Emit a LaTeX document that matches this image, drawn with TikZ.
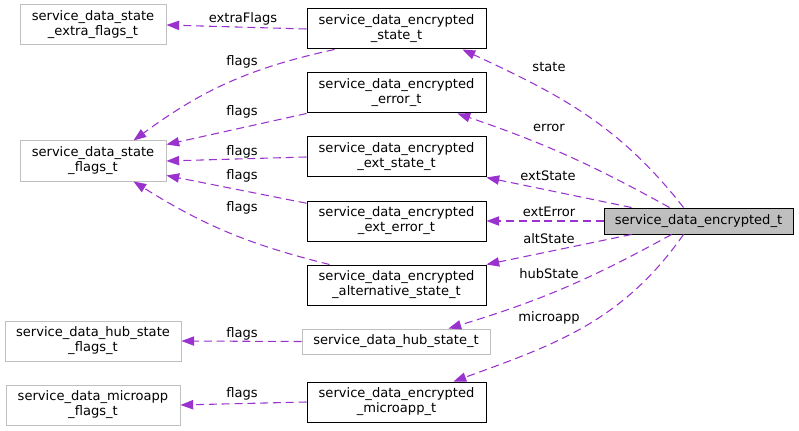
\documentclass[tikz,border=0pt]{standalone}
\usepackage{fontspec}
\setmainfont{DejaVu Sans}
\usetikzlibrary{arrows.meta,calc}
\definecolor{edgepurple}{HTML}{9A32CD}
\definecolor{boxgray}{HTML}{BFBFBF}

\begin{document}
\begin{tikzpicture}[x=0.75pt, y=-0.75pt,
    every node/.style={font=\fontsize{9.8}{11.3}\selectfont, align=center, inner sep=0pt},
    cls/.style={draw=black, line width=0.75pt, minimum height=30pt, minimum width=134.25pt},
    ext/.style={draw=boxgray, line width=0.75pt, minimum height=30pt},
    edge/.style={draw=edgepurple, line width=0.8pt, dash pattern=on 6pt off 3.6pt,
      -{Triangle[length=9.5pt, width=7pt]}},
    lbl/.style={}]
    \useasboundingbox (0,0) rectangle (799,431);

    % left column
    \node[ext, minimum width=109.5pt] (xf) at (93,25) {service\_data\_state\\\_extra\_flags\_t};
    \node[ext, minimum width=109.5pt] (sf) at (93,161) {service\_data\_state\\\_flags\_t};
    \node[ext, minimum width=132pt] (hf) at (93,341) {service\_data\_hub\_state\\\_flags\_t};
    \node[ext, minimum width=130.5pt] (mf) at (93,405) {service\_data\_microapp\\\_flags\_t};

    % middle column
    \node[cls] (es) at (396.5,29) {service\_data\_encrypted\\\_state\_t};
    \node[cls] (ee) at (396.5,93) {service\_data\_encrypted\\\_error\_t};
    \node[cls] (xs) at (396.5,157) {service\_data\_encrypted\\\_ext\_state\_t};
    \node[cls] (xe) at (396.5,221) {service\_data\_encrypted\\\_ext\_error\_t};
    \node[cls] (as) at (396.5,285) {service\_data\_encrypted\\\_alternative\_state\_t};
    \node[ext, minimum width=141pt, minimum height=18.75pt] (hs) at (396,341.5) {service\_data\_hub\_state\_t};
    \node[cls] (ma) at (396.5,402) {service\_data\_encrypted\\\_microapp\_t};

    % main struct
    \node[cls, fill=boxgray, minimum width=141.75pt, minimum height=19.5pt] (main) at (698.5,221) {service\_data\_encrypted\_t};

    % flags edges
    \draw[edge] (es.west) -- (xf.east);
    \draw[edge] ($(es.south west)+(28,0)$) to[bend right=12] ($(sf.north east)+(-33,0)$);
    \draw[edge] (ee.south west) -- ($(sf.north east)+(0,4)$);
    \draw[edge] (xs.west) -- (sf.east);
    \draw[edge] (xe) -- (sf);
    \draw[edge] ($(as.north west)+(23,0)$) to[bend left=9] ($(sf.south east)+(-33,0)$);
    \draw[edge] (hs.west) -- (hf.east);
    \draw[edge] (ma.west) -- (mf.east);

    % member edges
    \draw[edge] ($(main.north west)+(80,0)$) to[out=128, in=-25] ($(es.south east)+(-24,0)$);
    \draw[edge] ($(main.north west)+(66,0)$) to[bend right=5] ($(ee.south east)+(-29,0)$);
    \draw[edge] ($(main.north west)+(28,0)$) -- (xs.south east);
    \draw[edge] (main.west) -- (xe.east);
    \draw[edge] ($(main.south west)+(28,0)$) -- (as.north east);
    \draw[edge] ($(main.south west)+(68,0)$) to[bend left=6] ($(hs.north east)+(-42,0)$);
    \draw[edge] ($(main.south west)+(80,0)$) to[out=-125, in=20] ($(ma.north east)+(-33,0)$);

    % labels
    \node[lbl] (l-xf) at (243,19) {extraFlags};
    \node[lbl] (l-es) at (242,62) {flags};
    \node[lbl] (l-ee) at (242,112) {flags};
    \node[lbl] (l-xs) at (242,152) {flags};
    \node[lbl] (l-xe) at (242,176) {flags};
    \node[lbl] (l-as) at (242,208) {flags};
    \node[lbl] (l-hs) at (242,334) {flags};
    \node[lbl] (l-ma) at (242,394) {flags};
    \node[lbl] (l-state) at (549,67) {state};
    \node[lbl] (l-error) at (549,128) {error};
    \node[lbl] (l-extstate) at (548,176) {extState};
    \node[lbl] (l-exterror) at (549,212) {extError};
    \node[lbl] (l-altstate) at (549,239) {altState};
    \node[lbl] (l-hubstate) at (549,274) {hubState};
    \node[lbl] (l-microapp) at (549,318) {microapp};
\end{tikzpicture}
\end{document}
